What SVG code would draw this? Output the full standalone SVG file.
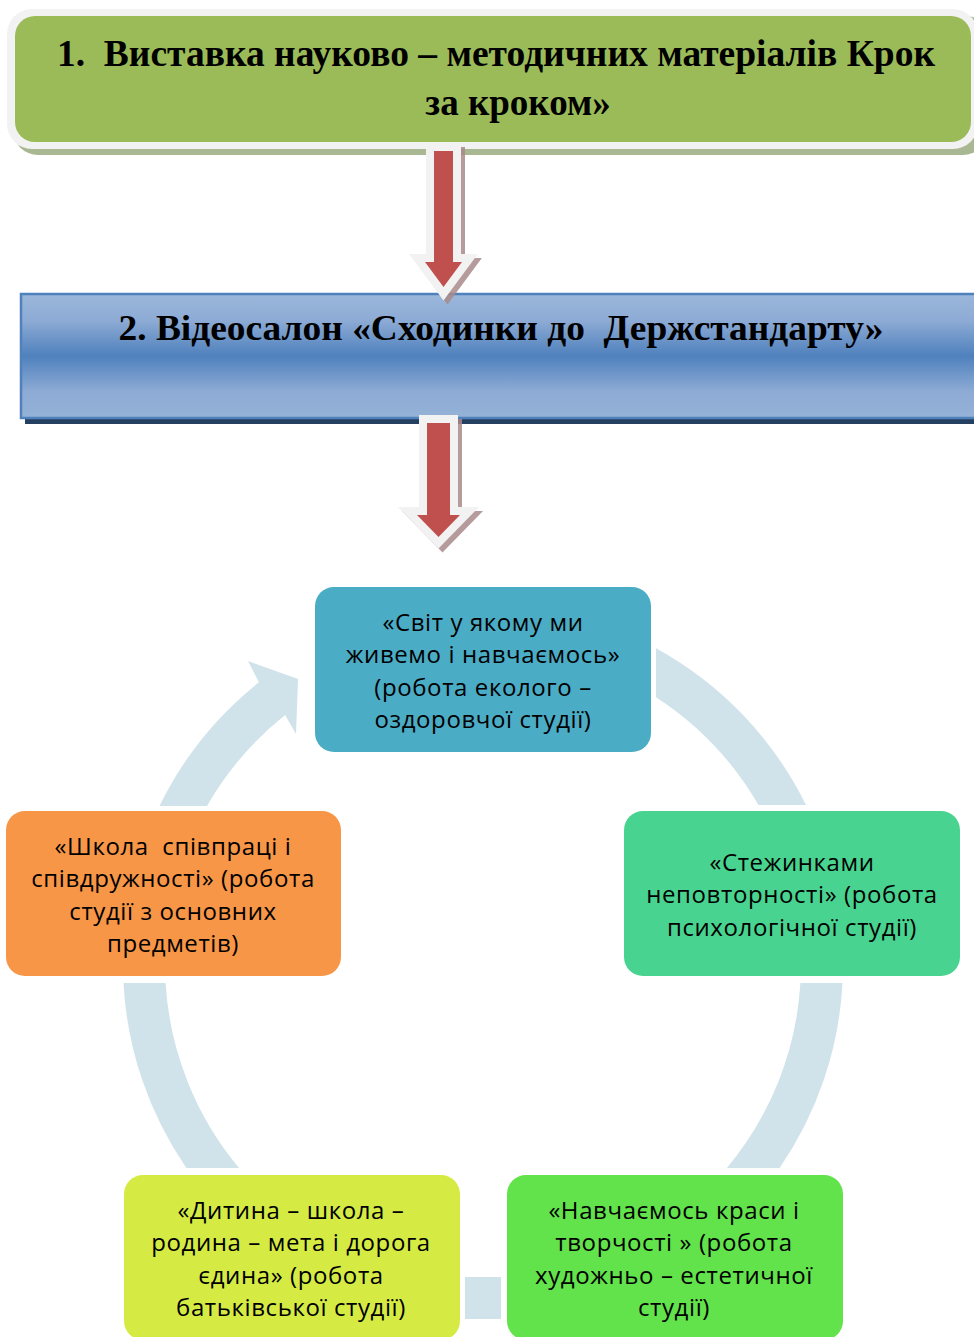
<svg xmlns="http://www.w3.org/2000/svg" width="974" height="1337" viewBox="0 0 974 1337">
<defs>
<linearGradient id="blueGrad" x1="0" y1="0" x2="0" y2="1">
<stop offset="0" stop-color="#9BB7DB"/>
<stop offset="0.22" stop-color="#8CAAD4"/>
<stop offset="0.5" stop-color="#4F81BD"/>
<stop offset="0.78" stop-color="#8CAAD4"/>
<stop offset="1" stop-color="#95B3D7"/>
</linearGradient>
<style>
.title{font-family:"Liberation Serif","Times New Roman",serif;font-weight:bold;fill:#000;text-anchor:middle;white-space:pre}
.node{font-family:"Open Sans","Liberation Sans",sans-serif;font-size:24px;fill:#000;text-anchor:middle;white-space:pre;letter-spacing:0.6px}
.arc{fill:#D0E2EA}
.arrowShadow{fill:#A98A8A;stroke:#A98A8A;stroke-width:16;stroke-linejoin:miter;stroke-miterlimit:10;opacity:0.85}
.arrowWhite{fill:#F2F2F2;stroke:#F2F2F2;stroke-width:16;stroke-linejoin:miter;stroke-miterlimit:10}
.arrowRed{fill:#C0504D}
</style>
</defs>

<g id="box1">
<rect x="13" y="15" width="975" height="140" rx="25" fill="#A9B893"/>
<rect x="7" y="9" width="971" height="140" rx="25" fill="#F2F2F2"/>
<rect x="15" y="16" width="956" height="126" rx="20" fill="#9BBB59"/>
<text class="title" font-size="37" x="496" y="66" textLength="878" lengthAdjust="spacingAndGlyphs">1.  Виставка науково – методичних матеріалів Крок</text>
<text class="title" font-size="37" x="518" y="115">за кроком»</text>
</g>

<g id="box2">
<rect x="25" y="300" width="960" height="124" fill="#243F60"/>
<rect x="21" y="294" width="960" height="124" fill="url(#blueGrad)" stroke="#4F81BD" stroke-width="2.5"/>
<text class="title" font-size="36" x="501" y="340" textLength="765" lengthAdjust="spacingAndGlyphs">2. Відеосалон «Сходинки до  Держстандарту»</text>
</g>

<g id="connectors">
<g id="arrow1">
<path class="arrowShadow" transform="translate(4,4)" d="M434,151 H453 V262 H462 L443.5,287 L425,262 H434 Z"/>
<path class="arrowWhite" d="M434,151 H453 V262 H462 L443.5,287 L425,262 H434 Z"/>
<path class="arrowRed" d="M434,151 H453 V262 H462 L443.5,287 L425,262 H434 Z"/>
</g>
<g id="arrow2">
<path class="arrowShadow" transform="translate(4,4)" d="M427,423 H450 V515 H460 L438.5,537 L417,515 H427 Z"/>
<path class="arrowWhite" d="M427,423 H450 V515 H460 L438.5,537 L417,515 H427 Z"/>
<path class="arrowRed" d="M427,423 H450 V515 H460 L438.5,537 L417,515 H427 Z"/>
</g>
<path class="arc" d="M656,648.3 A360,360 0 0 1 806,805 L758.4,805 A318,318 0 0 0 656,697.2 Z"/>
<path class="arc" d="M842.5,983 A360,360 0 0 1 779.6,1168 L726.9,1168 A318,318 0 0 0 800.4,983 Z"/>
<rect class="arc" x="465" y="1277" width="36" height="42"/>
<path class="arc" d="M186.4,1168 A360,360 0 0 1 123.5,983 L165.6,983 A318,318 0 0 0 239.1,1168 Z"/>
<path class="arc" d="M159.5,806 A360,360 0 0 1 258.9,682.3 L248,661 L298,679 L296,734 L285.1,715.1 A318,318 0 0 0 207,806 Z"/>
</g>

<g id="node-top">
<rect x="315" y="587" width="336" height="165" rx="19" fill="#4BACC6"/>
<text class="node" x="483" y="631">«Світ у якому ми</text>
<text class="node" x="483" y="663">живемо і навчаємось»</text>
<text class="node" x="483" y="696">(робота еколого –</text>
<text class="node" x="483" y="728">оздоровчої студії)</text>
</g>

<g id="node-right">
<rect x="624" y="811" width="336" height="165" rx="19" fill="#48D490"/>
<text class="node" x="792" y="871">«Стежинками</text>
<text class="node" x="792" y="903">неповторності» (робота</text>
<text class="node" x="792" y="936">психологічної студії)</text>
</g>

<g id="node-bottom-right">
<rect x="507" y="1175" width="336" height="165" rx="19" fill="#62E24B"/>
<text class="node" x="674" y="1219">«Навчаємось краси і</text>
<text class="node" x="674" y="1251">творчості » (робота</text>
<text class="node" x="674" y="1284">художньо – естетичної</text>
<text class="node" x="674" y="1316">студії)</text>
</g>

<g id="node-bottom-left">
<rect x="124" y="1175" width="336" height="165" rx="19" fill="#D5EB44"/>
<text class="node" x="291" y="1219">«Дитина – школа –</text>
<text class="node" x="291" y="1251">родина – мета і дорога</text>
<text class="node" x="291" y="1284">єдина» (робота</text>
<text class="node" x="291" y="1316">батьківської студії)</text>
</g>

<g id="node-left">
<rect x="6" y="811" width="335" height="165" rx="19" fill="#F79646"/>
<text class="node" x="173" y="855">«Школа  співпраці і</text>
<text class="node" x="173" y="887">співдружності» (робота</text>
<text class="node" x="173" y="920">студії з основних</text>
<text class="node" x="173" y="952">предметів)</text>
</g>
</svg>
